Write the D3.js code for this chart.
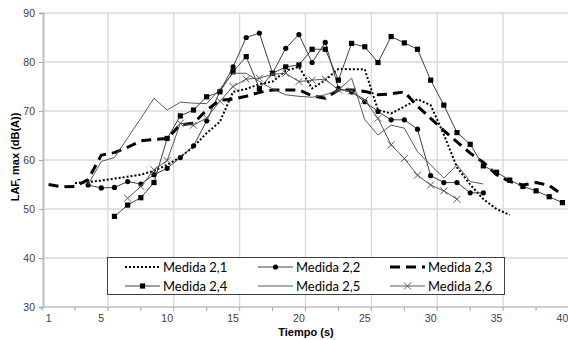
<!DOCTYPE html>
<html>
<head>
<meta charset="utf-8">
<script src="https://cdn.jsdelivr.net/npm/d3@7"></script>
<style>
  body { margin: 0; background: #fff; }
  svg { display: block; }
</style>
</head>
<body>
<svg id="chart" width="568" height="340"></svg>
<script>
// tiempo (s), one category per second
var tiempo = [1,2,3,4,5,6,7,8,9,10,11,12,13,14,15,16,17,18,19,20,
              21,22,23,24,25,26,27,28,29,30,31,32,33,34,35,36,37,38,39,40];
var xLabels = [1,5,10,15,20,25,30,35,40];
var yTicks = [30,40,50,60,70,80,90];

var m21 = [null,null,55.3,55.5,55.8,56.2,56.6,57.0,57.8,59.0,60.6,62.7,65.5,67.8,73.9,74.5,75.5,76.0,78.2,79.0,
           74.6,76.3,78.6,78.5,78.5,70.2,69.5,70.9,72.4,71.2,65.2,58.5,55.0,52.0,50.0,48.8,null,null,null,null];
var m22 = [null,null,null,54.9,54.3,54.4,55.6,55.1,57.0,58.3,60.5,62.9,68.0,74.0,79.0,85.0,85.9,77.7,82.8,85.6,
           79.9,84.0,74.6,73.9,71.9,69.9,68.2,68.2,66.3,56.8,55.4,55.4,53.3,53.3,null,null,null,null,null,null];
var m23 = [55.0,54.5,54.6,56.0,61.0,61.5,62.6,63.9,64.2,64.4,67.2,67.5,70.2,72.2,72.4,73.0,73.8,74.3,74.3,74.3,
           73.1,72.6,74.3,74.3,74.0,73.3,73.5,73.9,71.0,68.5,66.0,63.7,61.4,59.5,57.0,55.6,54.9,55.4,54.8,52.9];
var m24 = [null,null,null,null,null,48.5,50.8,52.3,55.4,64.4,69.0,70.2,72.9,73.9,78.0,81.1,74.6,77.7,79.0,79.4,
           82.6,82.6,76.3,83.8,83.1,79.9,85.2,83.9,82.6,76.3,71.2,65.6,63.2,58.8,57.5,55.9,54.6,53.7,52.5,51.3];
var m25 = [null,null,null,55.0,59.7,60.5,64.5,68.5,72.6,70.2,71.8,71.6,71.5,74.5,77.7,77.7,76.0,74.5,73.3,73.0,
           72.8,73.3,74.3,76.7,68.2,65.1,67.1,66.5,61.7,59.0,56.3,59.0,55.6,55.1,null,null,null,null,null,null];
var m26 = [null,null,null,null,null,null,52.2,54.6,58.0,59.9,67.5,67.1,68.6,72.0,75.0,76.5,76.7,77.5,77.7,76.0,
           76.3,76.5,74.3,74.1,72.2,68.5,63.1,60.3,56.9,54.9,53.7,52.0,null,null,null,null,null,null,null,null];

var series = [
  {name: "Medida 2,1", values: m21, width: 2, dash: "2,2", color: "#000", marker: null},
  {name: "Medida 2,2", values: m22, width: 1, dash: null, color: "#404040", marker: "circle"},
  {name: "Medida 2,3", values: m23, width: 3, dash: "10,6", color: "#000", marker: null},
  {name: "Medida 2,4", values: m24, width: 1, dash: null, color: "#404040", marker: "square"},
  {name: "Medida 2,5", values: m25, width: 1, dash: null, color: "#595959", marker: null},
  {name: "Medida 2,6", values: m26, width: 1, dash: null, color: "#595959", marker: "x"}
];

var svg = d3.select("#chart");
var plotLeft = 42, plotRight = 569, plotTop = 13, plotBottom = 307;

var x = d3.scaleLinear().domain([0.5, 40.5]).range([plotLeft, plotRight]);
var y = d3.scaleLinear().domain([30, 90]).range([plotBottom, plotTop]);

// gridlines
svg.append("g").selectAll("line").data(yTicks.slice(1))
  .enter().append("line")
  .attr("x1", plotLeft).attr("x2", plotRight)
  .attr("y1", d => y(d)).attr("y2", d => y(d))
  .style("stroke", "#d9d9d9").style("stroke-width", 1.3);

var vgrid = [5.5,10.5,15.5,20.5,25.5,30.5,35.5];
svg.append("g").selectAll("line").data(vgrid)
  .enter().append("line")
  .attr("x1", d => x(d)).attr("x2", d => x(d))
  .attr("y1", plotTop).attr("y2", plotBottom)
  .style("stroke", "#d9d9d9").style("stroke-width", 1.3);

// y axis
var yAxis = svg.append("g")
  .attr("transform", "translate(" + (plotLeft + 1) + ",0)")
  .call(d3.axisLeft(y).tickValues(yTicks).tickSize(4).tickPadding(4));
yAxis.select(".domain").style("stroke", "#bfbfbf").style("stroke-width", 2);
yAxis.selectAll(".tick line").style("stroke", "#a6a6a6");
yAxis.selectAll("text").style("font-family", "Liberation Sans, Arial, sans-serif")
  .style("font-size", "10.5px").style("fill", "#404040");

// x axis: minor ticks every 2.5 s, labels on categories
var xAxisG = svg.append("g").attr("transform", "translate(0," + plotBottom + ")");
xAxisG.append("line").attr("x1", plotLeft).attr("x2", plotRight)
  .style("stroke", "#bfbfbf").style("stroke-width", 1.5);
var xTickPos = d3.range(0.5, 40.6, 2.5);
xAxisG.selectAll("line.tk").data(xTickPos).enter().append("line")
  .attr("class", "tk")
  .attr("x1", d => x(d)).attr("x2", d => x(d))
  .attr("y1", 0).attr("y2", 4)
  .style("stroke", "#a6a6a6");
xAxisG.selectAll("text").data(xLabels).enter().append("text")
  .attr("x", d => x(d)).attr("y", 15)
  .attr("text-anchor", "middle")
  .style("font-family", "Liberation Sans, Arial, sans-serif")
  .style("font-size", "10.5px").style("fill", "#404040")
  .text(d => d);

// axis titles
svg.append("text")
  .attr("x", 306).attr("y", 336)
  .attr("text-anchor", "middle")
  .style("font-family", "Liberation Sans, Arial, sans-serif")
  .style("font-size", "11px").style("font-weight", "bold")
  .text("Tiempo (s)");
svg.append("text")
  .attr("transform", "translate(19,157) rotate(-90)")
  .attr("text-anchor", "middle")
  .style("font-family", "Liberation Sans, Arial, sans-serif")
  .style("font-size", "11px").style("font-weight", "bold")
  .text("LAF, max (dB(A))");

// series
var line = d3.line()
  .defined(d => d.v != null)
  .x(d => x(d.t))
  .y(d => y(d.v));

function drawMarker(g, type, cx, cy) {
  if (type == "circle") {
    g.append("circle").attr("cx", cx).attr("cy", cy).attr("r", 2.6).style("fill", "#000");
  } else if (type == "square") {
    g.append("rect").attr("x", cx - 2.6).attr("y", cy - 2.6)
      .attr("width", 5.2).attr("height", 5.2).style("fill", "#000");
  } else if (type == "x") {
    g.append("path")
      .attr("d", "M" + (cx - 3.5) + "," + (cy - 3.5) + "L" + (cx + 3.5) + "," + (cy + 3.5) +
                 "M" + (cx - 3.5) + "," + (cy + 3.5) + "L" + (cx + 3.5) + "," + (cy - 3.5))
      .style("stroke", "#595959").style("stroke-width", 1).style("fill", "none");
  }
}

var gSeries = svg.append("g");
series.forEach(function(s) {
  var pts = tiempo.map((t, i) => ({t: t, v: s.values[i]}));
  gSeries.append("path")
    .datum(pts)
    .attr("d", line)
    .style("fill", "none")
    .style("stroke", s.color)
    .style("stroke-width", s.width)
    .style("stroke-dasharray", s.dash)
    .style("stroke-linejoin", "round");
  if (s.marker) {
    var gm = gSeries.append("g");
    pts.filter(d => d.v != null).forEach(function(d) {
      drawMarker(gm, s.marker, x(d.t), y(d.v));
    });
  }
});

// legend
var legend = svg.append("g");
legend.append("rect")
  .attr("x", 107.5).attr("y", 257.5).attr("width", 397).attr("height", 37)
  .style("fill", "#fff").style("stroke", "#404040").style("stroke-width", 1);

var colX = [125, 258, 390];
var rowY = [267, 286];
series.forEach(function(s, i) {
  var cx = colX[i % 3], cy = rowY[Math.floor(i / 3)];
  legend.append("line")
    .attr("x1", cx).attr("x2", cx + 35)
    .attr("y1", cy).attr("y2", cy)
    .style("stroke", s.color)
    .style("stroke-width", s.width)
    .style("stroke-dasharray", s.dash);
  if (s.marker) drawMarker(legend, s.marker, cx + 17.5, cy);
  legend.append("text")
    .attr("x", cx + 38).attr("y", cy + 4.5)
    .style("font-family", "Lato, Calibri, sans-serif")
    .style("font-size", "13px").style("fill", "#000")
    .text(s.name);
});
</script>
</body>
</html>
